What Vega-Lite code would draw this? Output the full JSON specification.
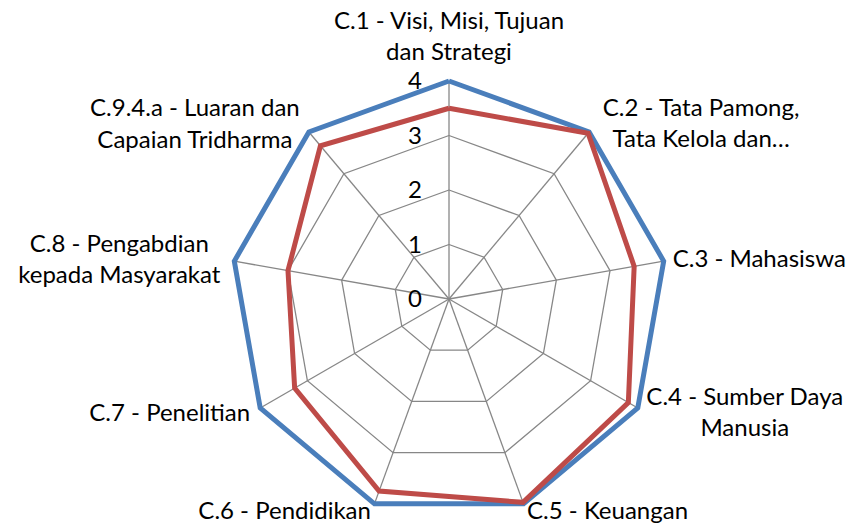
{
  "$schema": "https://vega.github.io/schema/vega-lite/v6.json",
  "width": 854,
  "height": 527,
  "autosize": {"type": "none"},
  "padding": 0,
  "config": {
    "view": {"stroke": null},
    "text": {"font": "Lato", "fontSize": 24, "color": "#000000", "lineHeight": 31.5, "baseline": "middle", "lineBreak": "\n"}
  },
  "datasets": {
    "axes": [
      {"idx": 0, "label": "C.1 - Visi, Misi, Tujuan\ndan Strategi"},
      {"idx": 1, "label": "C.2 - Tata Pamong,\nTata Kelola dan…"},
      {"idx": 2, "label": "C.3 - Mahasiswa"},
      {"idx": 3, "label": "C.4 - Sumber Daya\nManusia"},
      {"idx": 4, "label": "C.5 - Keuangan"},
      {"idx": 5, "label": "C.6 - Pendidikan"},
      {"idx": 6, "label": "C.7 - Penelitian"},
      {"idx": 7, "label": "C.8 - Pengabdian\nkepada Masyarakat"},
      {"idx": 8, "label": "C.9.4.a - Luaran dan\nCapaian Tridharma"}
    ],
    "scores": [
      {"series": "Target", "idx": 0, "value": 4},
      {"series": "Target", "idx": 1, "value": 4},
      {"series": "Target", "idx": 2, "value": 4},
      {"series": "Target", "idx": 3, "value": 4},
      {"series": "Target", "idx": 4, "value": 4},
      {"series": "Target", "idx": 5, "value": 4},
      {"series": "Target", "idx": 6, "value": 4},
      {"series": "Target", "idx": 7, "value": 4},
      {"series": "Target", "idx": 8, "value": 4},
      {"series": "Target", "idx": 9, "value": 4},
      {"series": "Nilai", "idx": 0, "value": 3.5},
      {"series": "Nilai", "idx": 1, "value": 3.97},
      {"series": "Nilai", "idx": 2, "value": 3.45},
      {"series": "Nilai", "idx": 3, "value": 3.8},
      {"series": "Nilai", "idx": 4, "value": 3.97},
      {"series": "Nilai", "idx": 5, "value": 3.75},
      {"series": "Nilai", "idx": 6, "value": 3.27},
      {"series": "Nilai", "idx": 7, "value": 3.0},
      {"series": "Nilai", "idx": 8, "value": 3.67},
      {"series": "Nilai", "idx": 9, "value": 3.5}
    ],
    "grid": [
      {"level": 1, "idx": 0}, {"level": 1, "idx": 1}, {"level": 1, "idx": 2}, {"level": 1, "idx": 3}, {"level": 1, "idx": 4},
      {"level": 1, "idx": 5}, {"level": 1, "idx": 6}, {"level": 1, "idx": 7}, {"level": 1, "idx": 8}, {"level": 1, "idx": 9},
      {"level": 2, "idx": 0}, {"level": 2, "idx": 1}, {"level": 2, "idx": 2}, {"level": 2, "idx": 3}, {"level": 2, "idx": 4},
      {"level": 2, "idx": 5}, {"level": 2, "idx": 6}, {"level": 2, "idx": 7}, {"level": 2, "idx": 8}, {"level": 2, "idx": 9},
      {"level": 3, "idx": 0}, {"level": 3, "idx": 1}, {"level": 3, "idx": 2}, {"level": 3, "idx": 3}, {"level": 3, "idx": 4},
      {"level": 3, "idx": 5}, {"level": 3, "idx": 6}, {"level": 3, "idx": 7}, {"level": 3, "idx": 8}, {"level": 3, "idx": 9},
      {"level": 4, "idx": 0}, {"level": 4, "idx": 1}, {"level": 4, "idx": 2}, {"level": 4, "idx": 3}, {"level": 4, "idx": 4},
      {"level": 4, "idx": 5}, {"level": 4, "idx": 6}, {"level": 4, "idx": 7}, {"level": 4, "idx": 8}, {"level": 4, "idx": 9}
    ],
    "ticks": [
      {"level": 0}, {"level": 1}, {"level": 2}, {"level": 3}, {"level": 4}
    ]
  },
  "encoding": {
    "x": {"field": "x", "type": "quantitative", "axis": null, "scale": {"domain": [-8.2385, 7.4312], "nice": false, "zero": false}},
    "y": {"field": "y", "type": "quantitative", "axis": null, "scale": {"domain": [-4.1835, 5.4862], "nice": false, "zero": false}}
  },
  "layer": [
    {
      "data": {"name": "grid"},
      "transform": [
        {"calculate": "datum.level * sin(datum.idx * 2 * PI / 9)", "as": "x"},
        {"calculate": "datum.level * cos(datum.idx * 2 * PI / 9)", "as": "y"}
      ],
      "mark": {"type": "line", "color": "#878787", "strokeWidth": 1.3},
      "encoding": {
        "detail": {"field": "level", "type": "nominal"},
        "order": {"field": "idx", "type": "quantitative"}
      }
    },
    {
      "data": {"name": "axes"},
      "transform": [
        {"calculate": "4 * sin(datum.idx * 2 * PI / 9)", "as": "x"},
        {"calculate": "4 * cos(datum.idx * 2 * PI / 9)", "as": "y"}
      ],
      "layer": [
        {
          "mark": {"type": "rule", "color": "#878787", "strokeWidth": 1.3},
          "encoding": {"x2": {"datum": 0}, "y2": {"datum": 0}}
        },
        {
          "transform": [{"filter": "datum.idx == 0"}],
          "mark": {"type": "text", "align": "center", "dx": 0, "dy": -59},
          "encoding": {"text": {"field": "label"}}
        },
        {
          "transform": [{"filter": "datum.idx == 1"}],
          "mark": {"type": "text", "align": "center", "dx": 112, "dy": -23.5},
          "encoding": {"text": {"field": "label"}}
        },
        {
          "transform": [{"filter": "datum.idx == 2"}],
          "mark": {"type": "text", "align": "left", "dx": 9, "dy": -1.5},
          "encoding": {"text": {"field": "label"}}
        },
        {
          "transform": [{"filter": "datum.idx == 3"}],
          "mark": {"type": "text", "align": "center", "dx": 107, "dy": -10},
          "encoding": {"text": {"field": "label"}}
        },
        {
          "transform": [{"filter": "datum.idx == 4"}],
          "mark": {"type": "text", "align": "left", "dx": 3.5, "dy": 8},
          "encoding": {"text": {"field": "label"}}
        },
        {
          "transform": [{"filter": "datum.idx == 5"}],
          "mark": {"type": "text", "align": "right", "dx": -3.5, "dy": 8},
          "encoding": {"text": {"field": "label"}}
        },
        {
          "transform": [{"filter": "datum.idx == 6"}],
          "mark": {"type": "text", "align": "right", "dx": -10, "dy": 6},
          "encoding": {"text": {"field": "label"}}
        },
        {
          "transform": [{"filter": "datum.idx == 7"}],
          "mark": {"type": "text", "align": "center", "dx": -115, "dy": -16.5},
          "encoding": {"text": {"field": "label"}}
        },
        {
          "transform": [{"filter": "datum.idx == 8"}],
          "mark": {"type": "text", "align": "center", "dx": -114, "dy": -23},
          "encoding": {"text": {"field": "label"}}
        }
      ]
    },
    {
      "data": {"name": "scores"},
      "transform": [
        {"filter": "datum.series == 'Target'"},
        {"calculate": "datum.value * sin(datum.idx * 2 * PI / 9)", "as": "x"},
        {"calculate": "datum.value * cos(datum.idx * 2 * PI / 9)", "as": "y"}
      ],
      "mark": {"type": "line", "color": "#4A7EBB", "strokeWidth": 5},
      "encoding": {"order": {"field": "idx", "type": "quantitative"}}
    },
    {
      "data": {"name": "scores"},
      "transform": [
        {"filter": "datum.series == 'Nilai'"},
        {"calculate": "datum.value * sin(datum.idx * 2 * PI / 9)", "as": "x"},
        {"calculate": "datum.value * cos(datum.idx * 2 * PI / 9)", "as": "y"}
      ],
      "mark": {"type": "line", "color": "#BE4B48", "strokeWidth": 5},
      "encoding": {"order": {"field": "idx", "type": "quantitative"}}
    },
    {
      "data": {"name": "ticks"},
      "transform": [
        {"calculate": "0", "as": "x"},
        {"calculate": "datum.level", "as": "y"}
      ],
      "mark": {"type": "text", "align": "right", "dx": -27, "dy": 1.5},
      "encoding": {"text": {"field": "level", "type": "quantitative"}}
    }
  ]
}
